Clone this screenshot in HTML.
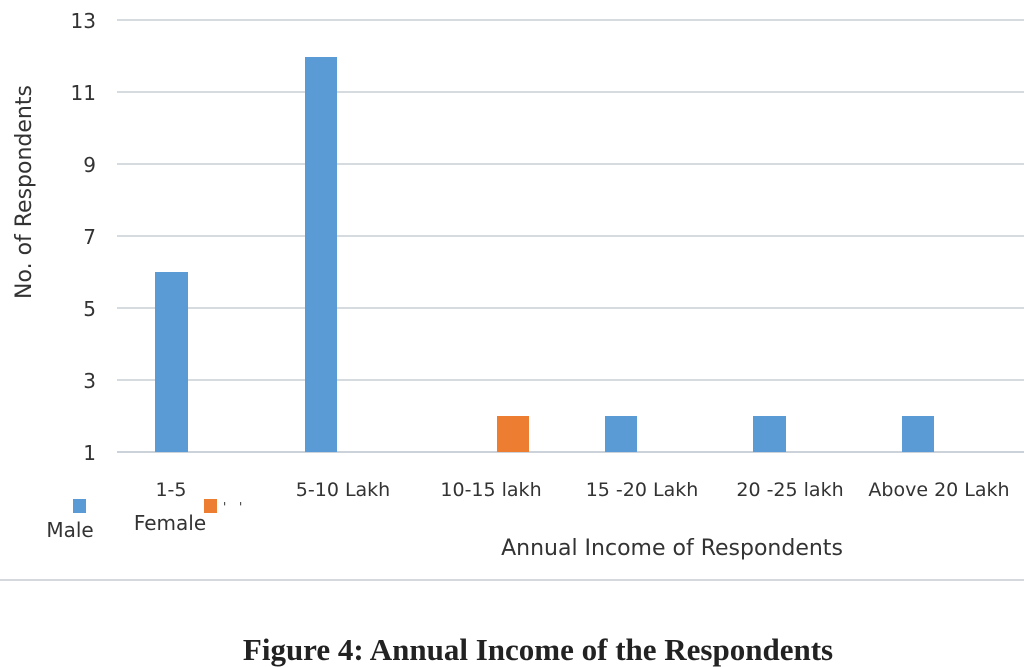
<!DOCTYPE html>
<html><head><meta charset="utf-8"><style>
html,body{margin:0;padding:0;background:#fff;width:1024px;height:667px;overflow:hidden}
svg text{font-family:"DejaVu Sans","Liberation Sans",sans-serif;fill:#333}
</style></head><body>
<svg width="1024" height="667" viewBox="0 0 1024 667" xmlns="http://www.w3.org/2000/svg">
<g stroke="#c9cfd6" stroke-width="1.5">
<line x1="117" y1="20" x2="1024" y2="20"/>
<line x1="117" y1="92" x2="1024" y2="92"/>
<line x1="117" y1="164" x2="1024" y2="164"/>
<line x1="117" y1="236" x2="1024" y2="236"/>
<line x1="117" y1="308" x2="1024" y2="308"/>
<line x1="117" y1="380" x2="1024" y2="380"/>
</g>
<line x1="117" y1="452" x2="1024" y2="452" stroke="#bcc4ce" stroke-width="1.5"/>
<g font-size="20" text-anchor="end">
<text x="96" y="28">13</text><text x="96" y="100">11</text><text x="96" y="172">9</text>
<text x="96" y="244">7</text><text x="96" y="316">5</text><text x="96" y="388">3</text><text x="96" y="460">1</text>
</g>
<text transform="translate(31,192) rotate(-90)" font-size="22" text-anchor="middle">No. of Respondents</text>
<g fill="#5b9bd5">
<rect x="155" y="272" width="33" height="180"/>
<rect x="305" y="57" width="32" height="395"/>
<rect x="605" y="416" width="32" height="36"/>
<rect x="753" y="416" width="33" height="36"/>
<rect x="902" y="416" width="32" height="36"/>
</g>
<rect x="497" y="416" width="32" height="36" fill="#ed7d31"/>
<g font-size="19" text-anchor="middle">
<text x="171" y="496">1-5</text>
<text x="343" y="496">5-10 Lakh</text>
<text x="491" y="496">10-15 lakh</text>
<text x="642" y="496">15 -20 Lakh</text>
<text x="790" y="496">20 -25 lakh</text>
<text x="939" y="496">Above 20 Lakh</text>
</g>
<rect x="73" y="499" width="13" height="14" fill="#5b9bd5"/>
<text x="70" y="537" font-size="20" text-anchor="middle">Male</text>
<rect x="204" y="499" width="13" height="14" fill="#ed7d31"/>
<text x="170" y="530" font-size="20" text-anchor="middle">Female</text>
<text x="223" y="511" font-size="12">'</text><text x="239" y="511" font-size="12">'</text>
<text x="672" y="555" font-size="22" text-anchor="middle">Annual Income of Respondents</text>
<line x1="0" y1="580" x2="1024" y2="580" stroke="#d5d8dc" stroke-width="2"/>
<text x="538" y="660" font-size="31" font-weight="bold" text-anchor="middle" style="font-family:'Liberation Serif',serif;fill:#222">Figure 4: Annual Income of the Respondents</text>
</svg>
</body></html>
